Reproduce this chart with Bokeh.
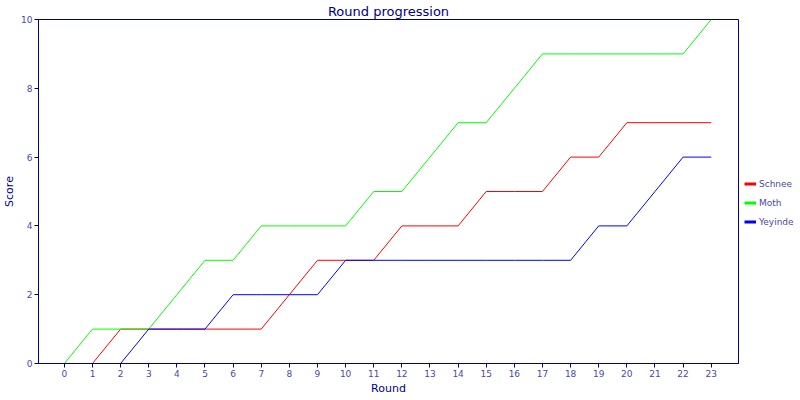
from bokeh.plotting import figure
from bokeh.models import Range1d, FixedTicker, Legend, LegendItem
from bokeh.embed import file_html
from bokeh.resources import INLINE

rounds = list(range(24))
schnee = [0, 0, 1, 1, 1, 1, 1, 1, 2, 3, 3, 3, 4, 4, 4, 5, 5, 5, 6, 6, 7, 7, 7, 7]
moth = [0, 1, 1, 1, 2, 3, 3, 4, 4, 4, 4, 5, 5, 6, 7, 7, 8, 9, 9, 9, 9, 9, 9, 10]
yeyinde = [0, 0, 0, 1, 1, 1, 2, 2, 2, 2, 3, 3, 3, 3, 3, 3, 3, 3, 3, 4, 4, 5, 6, 6]
series_names = ["Schnee", "Moth", "Yeyinde"]
series_colors = ["#ff0000", "#00ff00", "#0000ff"]
y_ticks = [0, 2, 4, 6, 8, 10]

NAVY = "#000080"
TICKC = "#4a4a9a"
FONT = "DejaVu Sans"
FW, FH = 700, 344

p = figure(frame_width=FW, frame_height=FH, output_backend="svg", toolbar_location=None,
           x_range=Range1d(-0.92, 23.97), y_range=Range1d(0, 10),
           title="Round progression", min_border_left=0, min_border_top=0,
           min_border_bottom=0, min_border_right=0)

p.title.align = "center"
p.title.text_font = FONT
p.title.text_font_size = "13px"
p.title.text_font_style = "normal"
p.title.text_color = NAVY
p.title.standoff = 2

p.outline_line_color = NAVY
p.outline_line_width = 1
p.outline_line_alpha = 1
p.grid.visible = False
p.background_fill_color = "white"

items = []
for name, ys, col in zip(series_names, [schnee, moth, yeyinde], series_colors):
    p.line(rounds, ys, line_color=col, line_width=1)
    proxy = p.line(x=[float("nan")], y=[float("nan")], line_color=col, line_width=3)
    items.append(LegendItem(label=name, renderers=[proxy]))

for ax in (p.xaxis[0], p.yaxis[0]):
    ax.axis_line_color = NAVY
    ax.major_tick_line_color = NAVY
    ax.minor_tick_line_color = None
    ax.major_tick_in = 0
    ax.major_tick_out = 4
    ax.major_label_text_font = FONT
    ax.major_label_text_font_size = "9px"
    ax.major_label_text_color = TICKC
    ax.major_label_standoff = 2
    ax.axis_label_text_font = FONT
    ax.axis_label_text_font_size = "11px"
    ax.axis_label_text_font_style = "normal"
    ax.axis_label_text_color = NAVY
    ax.axis_label_standoff = 2

p.xaxis.axis_label = "Round"
p.yaxis.axis_label = "Score"
p.xaxis.ticker = FixedTicker(ticks=rounds)
p.yaxis.ticker = FixedTicker(ticks=y_ticks)

legend = Legend(items=items, location=(6, 135), orientation="vertical",
                glyph_width=12, glyph_height=13, label_standoff=3,
                spacing=6, padding=0, margin=4,
                label_text_font=FONT, label_text_font_size="9px",
                label_text_color=TICKC, border_line_color=None,
                background_fill_alpha=0)
p.add_layout(legend, "right")

html = file_html(p, INLINE)
open("out.html", "w").write(html)
